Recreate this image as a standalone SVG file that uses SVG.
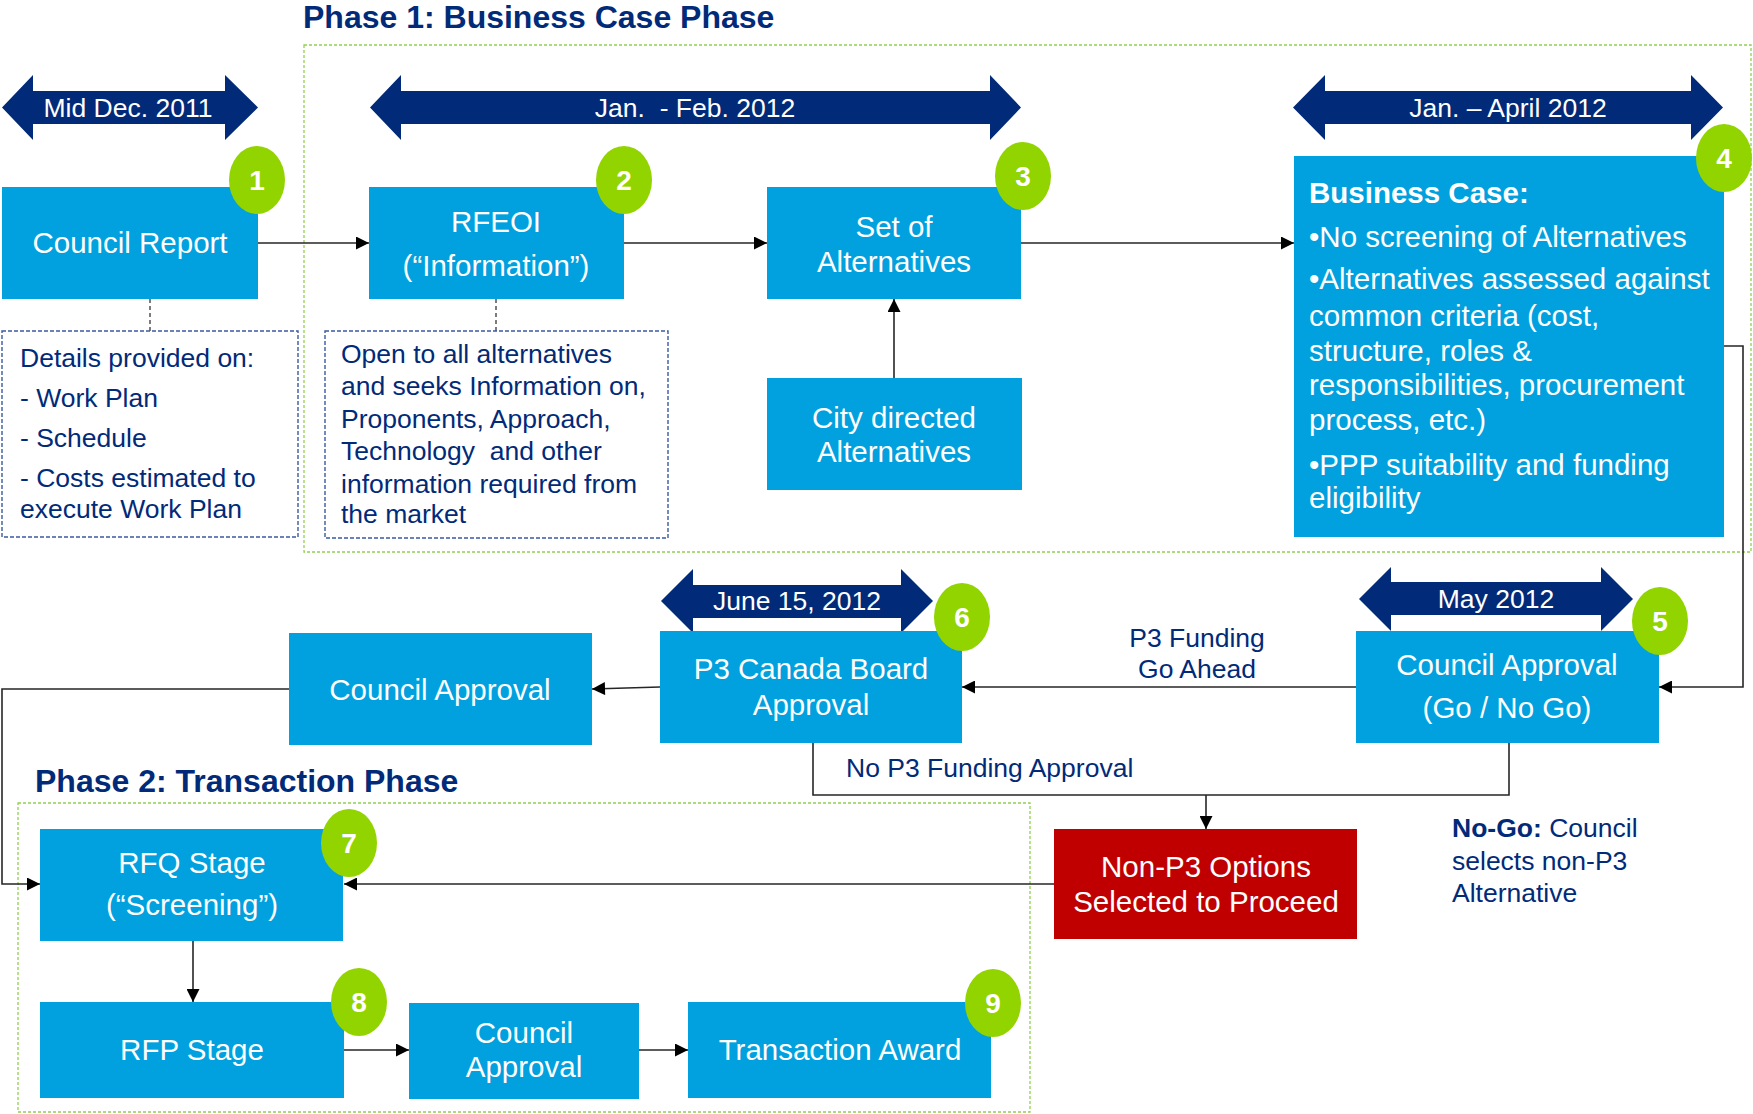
<svg xmlns="http://www.w3.org/2000/svg" width="1753" height="1114" viewBox="0 0 1753 1114">
  <style>
    text { font-family: "Liberation Sans", Arial, sans-serif; }
    .box { fill: #00A1DE; }
    .nogo { fill: #C00000; }
    .bt { fill: #ffffff; font-size: 29.5px; text-anchor: middle; }
    .bl { fill: #ffffff; font-size: 29.5px; }
    .date { fill: #012A78; }
    .dt { fill: #ffffff; font-size: 26.5px; text-anchor: middle; }
    .badge { fill: #92D400; }
    .bn { fill: #ffffff; font-size: 28px; font-weight: bold; text-anchor: middle; }
    .note { fill: #012A78; font-size: 26.5px; }
    .title { fill: #012A78; font-size: 32px; font-weight: bold; }
    .phase { fill: none; stroke: #92D050; stroke-width: 1.3; stroke-dasharray: 3 2; }
    .detail { fill: none; stroke: #3A5AA0; stroke-width: 1.4; stroke-dasharray: 4 2; }
    .lnk { fill: none; stroke: #262626; stroke-width: 1.6; }
    .dash { fill: none; stroke: #262626; stroke-width: 1.2; stroke-dasharray: 4 3; }
  </style>
  <defs>
    <marker id="ah" viewBox="0 0 10 10" refX="10" refY="5" markerWidth="14" markerHeight="13" markerUnits="userSpaceOnUse" orient="auto">
      <path d="M0,0 L10,5 L0,10 z" fill="#000"/>
    </marker>
  </defs>

  <!-- phase frames and titles -->
  <g id="phase1">
    <rect class="phase" x="304" y="45" width="1447" height="507"/>
    <text class="title" x="303" y="28">Phase 1: Business Case Phase</text>
  </g>
  <g id="phase2">
    <rect class="phase" x="18" y="803" width="1012" height="309"/>
    <text class="title" x="35" y="792">Phase 2: Transaction Phase</text>
  </g>

  <!-- timeline double arrows -->
  <g id="date-dec2011">
    <path class="date" d="M2,107.5 L33,75 L33,91 L225,91 L225,75 L258,107.5 L225,140 L225,124 L33,124 L33,140 Z"/>
    <text class="dt" x="128" y="117">Mid Dec. 2011</text>
  </g>
  <g id="date-janfeb2012">
    <path class="date" d="M370,107.5 L401,75 L401,91 L990,91 L990,75 L1021,107.5 L990,140 L990,124 L401,124 L401,140 Z"/>
    <text class="dt" x="695" y="117" xml:space="preserve">Jan.  - Feb. 2012</text>
  </g>
  <g id="date-janapr2012">
    <path class="date" d="M1293,107.5 L1325,75 L1325,91 L1691,91 L1691,75 L1723,107.5 L1691,140 L1691,124 L1325,124 L1325,140 Z"/>
    <text class="dt" x="1508" y="117">Jan. – April 2012</text>
  </g>
  <g id="date-may2012">
    <path class="date" d="M1359,599 L1391,567 L1391,582 L1601,582 L1601,567 L1633,599 L1601,631 L1601,615 L1391,615 L1391,631 Z"/>
    <text class="dt" x="1496" y="608">May 2012</text>
  </g>
  <g id="date-june2012">
    <path class="date" d="M661,601 L693,569 L693,585 L901,585 L901,569 L933,601 L901,633 L901,618 L693,618 L693,633 Z"/>
    <text class="dt" x="797" y="610">June 15, 2012</text>
  </g>

  <!-- connectors -->
  <g id="connectors">
    <line class="lnk" x1="258" y1="243" x2="369" y2="243" marker-end="url(#ah)"/>
    <line class="lnk" x1="624" y1="243" x2="767" y2="243" marker-end="url(#ah)"/>
    <line class="lnk" x1="1021" y1="243" x2="1294" y2="243" marker-end="url(#ah)"/>
    <line class="lnk" x1="894" y1="378" x2="894" y2="299" marker-end="url(#ah)"/>
    <line class="dash" x1="150" y1="299" x2="150" y2="331"/>
    <line class="dash" x1="496" y1="299" x2="496" y2="331"/>
    <polyline class="lnk" points="1724,346 1743,346 1743,687 1659,687" marker-end="url(#ah)"/>
    <line class="lnk" x1="1356" y1="687" x2="962" y2="687" marker-end="url(#ah)"/>
    <line class="lnk" x1="660" y1="687" x2="592" y2="689" marker-end="url(#ah)"/>
    <polyline class="lnk" points="289,689 2,689 2,884 40,884" marker-end="url(#ah)"/>
    <polyline class="lnk" points="813,743 813,795 1509,795 1509,743"/>
    <line class="lnk" x1="1206" y1="795" x2="1206" y2="829" marker-end="url(#ah)"/>
    <line class="lnk" x1="1054" y1="884" x2="344" y2="884" marker-end="url(#ah)"/>
    <line class="lnk" x1="193" y1="941" x2="193" y2="1002" marker-end="url(#ah)"/>
    <line class="lnk" x1="344" y1="1050" x2="409" y2="1050" marker-end="url(#ah)"/>
    <line class="lnk" x1="639" y1="1050" x2="688" y2="1050" marker-end="url(#ah)"/>
    <text class="note" x="1197" y="647" text-anchor="middle">P3 Funding</text>
    <text class="note" x="1197" y="678" text-anchor="middle">Go Ahead</text>
    <text class="note" x="846" y="777">No P3 Funding Approval</text>
  </g>

  <!-- step 1 -->
  <g id="council-report">
    <rect class="box" x="2" y="187" width="256" height="112"/>
    <text class="bt" x="130" y="253">Council Report</text>
    <ellipse class="badge" cx="257" cy="180" rx="28" ry="34"/>
    <text class="bn" x="257" y="190">1</text>
  </g>
  <g id="council-report-details">
    <rect class="detail" x="2" y="331" width="296" height="206"/>
    <text class="note" x="20" y="367">Details provided on:</text>
    <text class="note" x="20" y="407">- Work Plan</text>
    <text class="note" x="20" y="447">- Schedule</text>
    <text class="note" x="20" y="487">- Costs estimated to</text>
    <text class="note" x="20" y="518">execute Work Plan</text>
  </g>

  <!-- step 2 -->
  <g id="rfeoi">
    <rect class="box" x="369" y="187" width="255" height="112"/>
    <text class="bt" x="496" y="232">RFEOI</text>
    <text class="bt" x="496" y="276">(“Information”)</text>
    <ellipse class="badge" cx="624" cy="180" rx="28" ry="34"/>
    <text class="bn" x="624" y="190">2</text>
  </g>
  <g id="rfeoi-details">
    <rect class="detail" x="325" y="331" width="343" height="207"/>
    <text class="note" x="341" y="363">Open to all alternatives</text>
    <text class="note" x="341" y="395">and seeks Information on,</text>
    <text class="note" x="341" y="428">Proponents, Approach,</text>
    <text class="note" x="341" y="460" xml:space="preserve">Technology  and other</text>
    <text class="note" x="341" y="493">information required from</text>
    <text class="note" x="341" y="523">the market</text>
  </g>

  <!-- step 3 -->
  <g id="set-of-alternatives">
    <rect class="box" x="767" y="187" width="254" height="112"/>
    <text class="bt" x="894" y="237">Set of</text>
    <text class="bt" x="894" y="272">Alternatives</text>
    <ellipse class="badge" cx="1023" cy="176" rx="28" ry="34"/>
    <text class="bn" x="1023" y="186">3</text>
  </g>
  <g id="city-directed">
    <rect class="box" x="767" y="378" width="255" height="112"/>
    <text class="bt" x="894" y="428">City directed</text>
    <text class="bt" x="894" y="462">Alternatives</text>
  </g>

  <!-- step 4 -->
  <g id="business-case">
    <rect class="box" x="1294" y="156" width="430" height="381"/>
    <text class="bl" x="1309" y="203" font-weight="bold">Business Case:</text>
    <text class="bl" x="1309" y="247">•No screening of Alternatives</text>
    <text class="bl" x="1309" y="289">•Alternatives assessed against</text>
    <text class="bl" x="1309" y="326">common criteria (cost,</text>
    <text class="bl" x="1309" y="361">structure, roles &amp;</text>
    <text class="bl" x="1309" y="395">responsibilities, procurement</text>
    <text class="bl" x="1309" y="430">process, etc.)</text>
    <text class="bl" x="1309" y="475">•PPP suitability and funding</text>
    <text class="bl" x="1309" y="508">eligibility</text>
    <ellipse class="badge" cx="1724" cy="158" rx="28" ry="34"/>
    <text class="bn" x="1724" y="168">4</text>
  </g>

  <!-- step 5 -->
  <g id="council-go-nogo">
    <rect class="box" x="1356" y="631" width="303" height="112"/>
    <text class="bt" x="1507" y="675">Council Approval</text>
    <text class="bt" x="1507" y="718">(Go / No Go)</text>
    <ellipse class="badge" cx="1660" cy="621" rx="28" ry="34"/>
    <text class="bn" x="1660" y="631">5</text>
  </g>
  <g id="nogo-note">
    <text class="note" x="1452" y="837"><tspan font-weight="bold">No-Go:</tspan> Council</text>
    <text class="note" x="1452" y="870">selects non-P3</text>
    <text class="note" x="1452" y="902">Alternative</text>
  </g>

  <!-- step 6 -->
  <g id="p3-canada-board">
    <rect class="box" x="660" y="631" width="302" height="112"/>
    <text class="bt" x="811" y="679">P3 Canada Board</text>
    <text class="bt" x="811" y="715">Approval</text>
    <ellipse class="badge" cx="962" cy="617" rx="28" ry="34"/>
    <text class="bn" x="962" y="627">6</text>
  </g>
  <g id="council-approval-p3">
    <rect class="box" x="289" y="633" width="303" height="112"/>
    <text class="bt" x="440" y="700">Council Approval</text>
  </g>

  <g id="non-p3-options">
    <rect class="nogo" x="1054" y="829" width="303" height="110"/>
    <text class="bt" x="1206" y="877">Non-P3 Options</text>
    <text class="bt" x="1206" y="912">Selected to Proceed</text>
  </g>

  <!-- phase 2 steps -->
  <g id="rfq-stage">
    <rect class="box" x="40" y="829" width="303" height="112"/>
    <text class="bt" x="192" y="873">RFQ Stage</text>
    <text class="bt" x="192" y="915">(“Screening”)</text>
    <ellipse class="badge" cx="349" cy="843" rx="28" ry="34"/>
    <text class="bn" x="349" y="853">7</text>
  </g>
  <g id="rfp-stage">
    <rect class="box" x="40" y="1002" width="304" height="96"/>
    <text class="bt" x="192" y="1060">RFP Stage</text>
    <ellipse class="badge" cx="359" cy="1002" rx="28" ry="34"/>
    <text class="bn" x="359" y="1012">8</text>
  </g>
  <g id="council-approval-final">
    <rect class="box" x="409" y="1003" width="230" height="96"/>
    <text class="bt" x="524" y="1043">Council</text>
    <text class="bt" x="524" y="1077">Approval</text>
  </g>
  <g id="transaction-award">
    <rect class="box" x="688" y="1002" width="303" height="96"/>
    <text class="bt" x="840" y="1060">Transaction Award</text>
    <ellipse class="badge" cx="993" cy="1003" rx="28" ry="34"/>
    <text class="bn" x="993" y="1013">9</text>
  </g>
</svg>
